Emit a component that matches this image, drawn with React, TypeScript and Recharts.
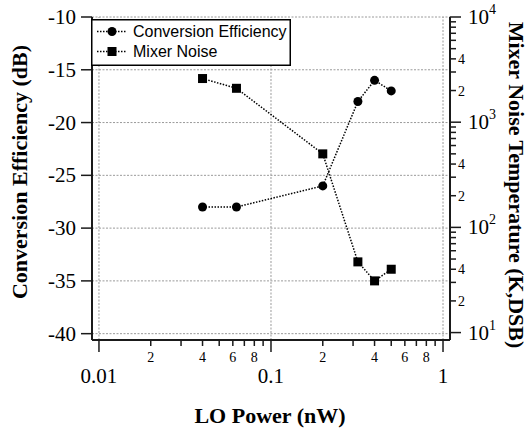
import React from "react";
import {
  ComposedChart,
  Line,
  XAxis,
  YAxis,
  CartesianGrid,
  ReferenceLine,
  Legend,
} from "recharts";

// LO power (nW) and the two measured series
const loPower = [0.04, 0.063, 0.2, 0.32, 0.4, 0.5];
const conversionEfficiency = [-28, -28, -26, -18, -16, -17];
const mixerNoise = [2600, 2100, 500, 47, 31, 40];

// axis ticks
const xTicks = [
  0.01, 0.02, 0.03, 0.04, 0.05, 0.06, 0.07, 0.08, 0.09,
  0.1, 0.2, 0.3, 0.4, 0.5, 0.6, 0.7, 0.8, 0.9, 1,
];
const xMajor = [0.01, 0.1, 1];
const xMinorLabels = [2, 4, 6, 8];
const effTicks = [-40, -35, -30, -25, -20, -15, -10];
const noiseTicks = [
  10, 20, 30, 40, 50, 60, 70, 80, 90,
  100, 200, 300, 400, 500, 600, 700, 800, 900,
  1000, 2000, 3000, 4000, 5000, 6000, 7000, 8000, 9000, 10000,
];
const noiseMinorLabels = [2, 4];

const rows = loPower.map((lo, i) => ({
  lo,
  ce: conversionEfficiency[i],
  noise: mixerNoise[i],
}));

const SERIF = "'Liberation Serif', 'Times New Roman', serif";
const SANS = "'Liberation Sans', Arial, sans-serif";
const AXIS = "#1a1a1a";
const DOTS = "1.5 1.5";

const mantissa = (v: number) =>
  Math.round(v / Math.pow(10, Math.floor(Math.log10(v) + 1e-9)));

const XTick = (props: any) => {
  const { x, y, payload } = props;
  const v = payload.value;
  const m = mantissa(v);
  const major = m === 1;
  return (
    <g>
      <line x1={x} x2={x} y1={y} y2={y + (major ? 12 : 6)} stroke={AXIS} strokeWidth={1.5} />
      {major ? (
        <text x={x} y={y + 43} textAnchor="middle" fontSize={21} fontFamily={SERIF} fill="#000">
          {String(v)}
        </text>
      ) : xMinorLabels.includes(m) ? (
        <text x={x} y={y + 22} textAnchor="middle" fontSize={14} fontFamily={SERIF} fill="#000">
          {m}
        </text>
      ) : null}
    </g>
  );
};

const EffTick = (props: any) => {
  const { x, y, payload } = props;
  return (
    <text x={x} y={y + 7} textAnchor="end" fontSize={21} fontFamily={SERIF} fill="#000">
      {payload.value}
    </text>
  );
};

const NoiseTick = (props: any) => {
  const { x, y, payload } = props;
  const v = payload.value;
  const m = mantissa(v);
  const major = m === 1;
  return (
    <g>
      <line x1={x} x2={x + (major ? 11 : 6)} y1={y} y2={y} stroke={AXIS} strokeWidth={1.5} />
      {major ? (
        <text x={x + 18} y={y + 7} fontSize={21} fontFamily={SERIF} fill="#000">
          10
          <tspan fontSize={14} dy={-10}>
            {Math.round(Math.log10(v))}
          </tspan>
        </text>
      ) : noiseMinorLabels.includes(m) ? (
        <text x={x + 8} y={y + 5} fontSize={14} fontFamily={SERIF} fill="#000">
          {m}
        </text>
      ) : null}
    </g>
  );
};

const titleStyle = {
  fontFamily: SERIF,
  fontWeight: "bold" as const,
  fontSize: 22,
  fill: "#000",
};

const SquareDot = (props: any) => {
  const { cx, cy, index } = props;
  return <rect key={`sq-${index}`} x={cx - 4.5} y={cy - 4.5} width={9} height={9} fill="#000" />;
};

const LegendBox = () => (
  <svg width={200} height={47} style={{ display: "block" }}>
    <rect x={0.75} y={0.75} width={198.5} height={45.5} fill="#fff" stroke="#000" strokeWidth={1.5} />
    <line x1={6} x2={36} y1={12.5} y2={12.5} stroke="#000" strokeWidth={1.5} strokeDasharray={DOTS} />
    <circle cx={21} cy={12.5} r={4.5} fill="#000" />
    <text x={42} y={18} fontSize={16} fontFamily={SANS} fill="#000">
      Conversion Efficiency
    </text>
    <line x1={6} x2={36} y1={32.5} y2={32.5} stroke="#000" strokeWidth={1.5} strokeDasharray={DOTS} />
    <rect x={16.5} y={28} width={9} height={9} fill="#000" />
    <text x={42} y={38} fontSize={16} fontFamily={SANS} fill="#000">
      Mixer Noise
    </text>
  </svg>
);

export default function App() {
  return (
    <div
      style={{
        position: "absolute",
        left: 0,
        top: 0,
        width: 528,
        height: 430,
        background: "#fff",
        fontFamily: SERIF,
      }}
    >
      <ComposedChart
        width={528}
        height={430}
        data={rows}
        margin={{ top: 17, right: 0, bottom: 0, left: 0 }}
      >
        <CartesianGrid
          yAxisId="left"
          vertical={false}
          stroke="#9a9a9a"
          strokeDasharray="2 1.5"
        />
        {xMajor.map((v) => (
          <ReferenceLine
            key={v}
            x={v}
            yAxisId="left"
            stroke="#9a9a9a"
            strokeDasharray="2 1.5"
          />
        ))}
        <XAxis
          dataKey="lo"
          type="number"
          scale="log"
          domain={[0.00911, 1.098]}
          allowDataOverflow
          ticks={xTicks}
          interval={0}
          tickSize={0}
          tickMargin={0}
          tickLine={false}
          tick={<XTick />}
          axisLine={{ stroke: AXIS, strokeWidth: 2 }}
          height={90}
          label={() => (
            <text x={270} y={423} textAnchor="middle" {...titleStyle}>
              LO Power (nW)
            </text>
          )}
        />
        <YAxis
          yAxisId="left"
          type="number"
          domain={[-40.6, -10]}
          allowDataOverflow
          ticks={effTicks}
          interval={0}
          width={92}
          tickSize={11}
          tickMargin={5}
          tickLine={{ stroke: AXIS, strokeWidth: 1.5 }}
          axisLine={{ stroke: AXIS, strokeWidth: 2 }}
          tick={<EffTick />}
          label={() => (
            <text x={27} y={172} textAnchor="middle" transform="rotate(-90 27 172)" {...titleStyle}>
              Conversion Efficiency (dB)
            </text>
          )}
        />
        <YAxis
          yAxisId="right"
          orientation="right"
          type="number"
          scale="log"
          domain={[8.5, 10000]}
          allowDataOverflow
          ticks={noiseTicks}
          interval={0}
          width={78}
          tickSize={0}
          tickMargin={0}
          tickLine={false}
          tick={<NoiseTick />}
          axisLine={{ stroke: AXIS, strokeWidth: 2 }}
          label={() => (
            <text x={509} y={185} textAnchor="middle" transform="rotate(90 509 185)" {...titleStyle}>
              Mixer Noise Temperature (K,DSB)
            </text>
          )}
        />
        <Line
          yAxisId="left"
          dataKey="ce"
          stroke="#000"
          strokeWidth={1.5}
          strokeDasharray={DOTS}
          dot={{ r: 4.5, fill: "#000", stroke: "none" }}
          activeDot={false}
          isAnimationActive={false}
        />
        <Line
          yAxisId="right"
          dataKey="noise"
          stroke="#000"
          strokeWidth={1.5}
          strokeDasharray={DOTS}
          dot={<SquareDot />}
          activeDot={false}
          isAnimationActive={false}
        />
        <Legend
          layout="vertical"
          align="center"
          verticalAlign="middle"
          wrapperStyle={{ left: 91, top: 19, width: 200, height: 47 }}
          content={() => <LegendBox />}
        />
      </ComposedChart>
    </div>
  );
}
